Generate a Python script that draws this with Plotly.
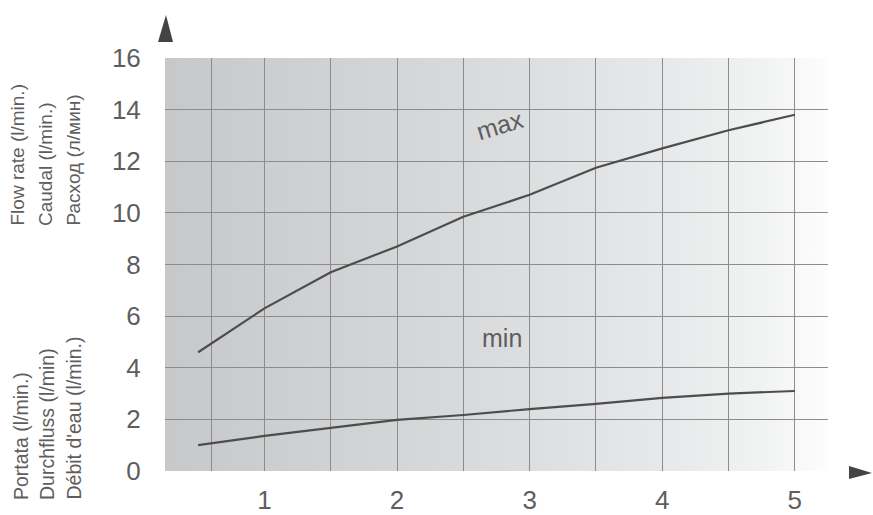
import base64
import plotly.graph_objects as go

# ---- data ----
pressure = [0.5, 1, 1.5, 2, 2.5, 3, 3.5, 4, 4.5, 5]
flow_max = [4.6, 6.3, 7.7, 8.7, 9.85, 10.7, 11.75, 12.5, 13.2, 13.8]
flow_min = [1.0, 1.36, 1.67, 1.98, 2.17, 2.4, 2.6, 2.83, 3.0, 3.1]

x_grid = [0.6, 1, 1.5, 2, 2.5, 3, 3.5, 4, 4.5, 5]
x_labels = ["" if v != int(v) else str(int(v)) for v in x_grid]
y_grid = [0, 2, 4, 6, 8, 10, 12, 14]
y_ticks = [0, 2, 4, 6, 8, 10, 12, 14, 16]

title_upper = ["Flow rate (l/min.)", "Caudal (l/min.)", "Расход (л/мин)"]
title_lower = ["Portata (l/min.)", "Durchfluss (l/min)", "Débit d'eau (l/min.)"]

FONT = "Liberation Sans, Arial, sans-serif"
LINE = "#4d4d4d"
GRID = "#8c8c8c"
TXT = "#5e5e5e"

# background gradient as an SVG image
svg = (
    '<svg xmlns="http://www.w3.org/2000/svg" width="100" height="100" preserveAspectRatio="none">'
    '<defs><linearGradient id="g" x1="0" y1="0" x2="1" y2="0">'
    '<stop offset="0" stop-color="#c6c8ca"/>'
    '<stop offset="0.35" stop-color="#d3d5d7"/>'
    '<stop offset="0.55" stop-color="#dcdedf"/>'
    '<stop offset="0.75" stop-color="#e7e8e9"/>'
    '<stop offset="0.9" stop-color="#f1f2f2"/>'
    '<stop offset="1" stop-color="#fdfdfd"/>'
    '</linearGradient></defs>'
    '<rect x="0" y="0" width="100" height="100" fill="url(#g)"/></svg>'
)
svg_uri = "data:image/svg+xml;base64," + base64.b64encode(svg.encode()).decode()

fig = go.Figure()
fig.add_trace(go.Scatter(x=pressure, y=flow_max, mode="lines",
                         line=dict(color=LINE, width=2.2), hoverinfo="skip", showlegend=False))
fig.add_trace(go.Scatter(x=pressure, y=flow_min, mode="lines", yaxis="y2",
                         line=dict(color=LINE, width=2.2), hoverinfo="skip", showlegend=False))

fig.add_layout_image(dict(source=svg_uri, xref="paper", yref="paper", x=0, y=1,
                          sizex=1, sizey=1, sizing="stretch", xanchor="left",
                          yanchor="top", layer="below"))

fig.update_layout(
    width=873, height=515,
    margin=dict(l=165, r=45, t=58, b=44, autoexpand=False),
    paper_bgcolor="white", plot_bgcolor="rgba(0,0,0,0)",
    font=dict(family=FONT, color=TXT),
    xaxis=dict(range=[0.25, 5.25], tickvals=x_grid, ticktext=x_labels, automargin=False,
               showgrid=True, gridcolor=GRID, gridwidth=1.2, zeroline=False,
               showline=False, ticks="outside", ticklen=6, tickcolor="rgba(0,0,0,0)",
               tickfont=dict(size=26, color=TXT, family=FONT), fixedrange=True),
    yaxis=dict(range=[0, 16], tickvals=y_grid, showticklabels=False, automargin=False,
               showgrid=True, gridcolor=GRID, gridwidth=1.2, zeroline=False,
               showline=False, ticks="", fixedrange=True),
    yaxis2=dict(range=[0, 16], overlaying="y", tickvals=y_ticks, showgrid=False,
                zeroline=False, showline=False, ticks="outside", ticklen=18,
                tickcolor="rgba(0,0,0,0)", side="left", automargin=False,
                tickfont=dict(size=26, color=TXT, family=FONT), fixedrange=True),
    showlegend=False,
)

# axis arrows
fig.add_shape(type="path", xref="paper", yref="paper", xsizemode="pixel", ysizemode="pixel",
              xanchor=0, yanchor=1, path="M -7,16 L 1,43 L 8,16 Z",
              fillcolor="#444444", line=dict(width=0))
fig.add_shape(type="path", xref="paper", yref="paper", xsizemode="pixel", ysizemode="pixel",
              xanchor=1, yanchor=0, path="M 21,5 L 44,-2 L 21,-8 Z",
              fillcolor="#444444", line=dict(width=0))

# curve labels
fig.add_annotation(x=2.776, y=13.4, text="max", showarrow=False, textangle=-17,
                   font=dict(size=25, color=TXT, family=FONT))
fig.add_annotation(x=2.79, y=5.15, text="min", showarrow=False, yref="y2",
                   font=dict(size=25, color=TXT, family=FONT))

# rotated axis titles (three languages in each group)
upper_x = [17, 45, 73]
lower_x = [21, 47, 73]
for txt, px in zip(title_upper, upper_x):
    fig.add_annotation(xref="paper", yref="paper", x=(px - 165) / 663, y=(471 - 228) / 413,
                       xanchor="center", yanchor="bottom", text=txt, textangle=-90,
                       showarrow=False, font=dict(size=19, color=TXT, family=FONT))
for txt, px in zip(title_lower, lower_x):
    fig.add_annotation(xref="paper", yref="paper", x=(px - 165) / 663, y=(471 - 502) / 413,
                       xanchor="center", yanchor="bottom", text=txt, textangle=-90,
                       showarrow=False, font=dict(size=19.5, color=TXT, family=FONT))

fig.write_html("out.html", config={"displayModeBar": False},
               post_script="document.body.style.margin='0';document.body.style.overflow='hidden';")
